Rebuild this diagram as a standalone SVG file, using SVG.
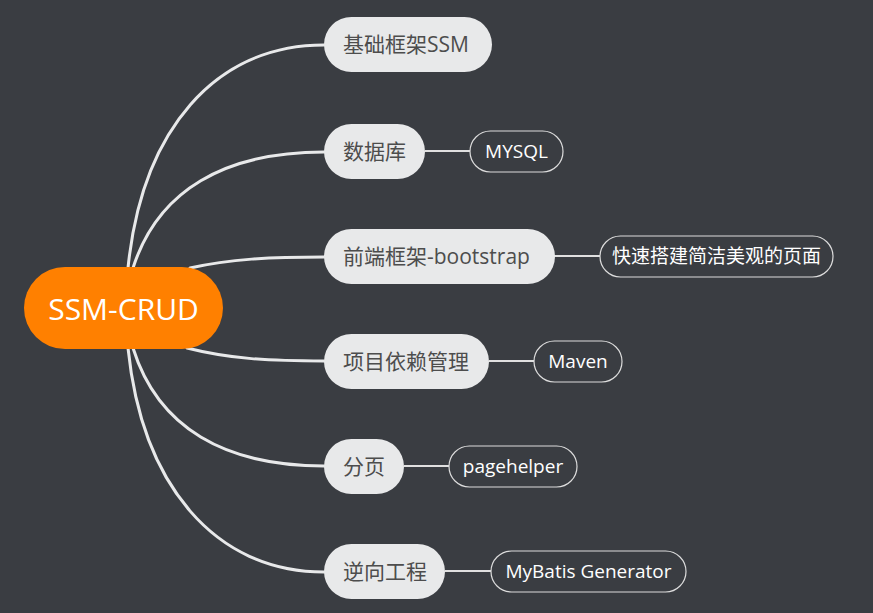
<svg xmlns="http://www.w3.org/2000/svg" width="873" height="613" viewBox="0 0 873 613">
<style>
.bg{fill:#3a3d42}
.main rect{fill:#e8e9ea}
.main text{fill:#4d4d4d;font-family:"Open Sans","Noto Sans CJK SC",sans-serif;font-size:21px}
.sub rect{fill:none;stroke:#dcdcdc;stroke-width:1.2}
.sub text{fill:#ffffff;font-family:"Open Sans","Noto Sans CJK SC",sans-serif;font-size:19px;text-anchor:middle}
.conn path{fill:none;stroke:#e8e9ea;stroke-width:3;stroke-linecap:round}
.conn line{stroke:#e0e0e0;stroke-width:2}
</style>
<rect class="bg" x="0" y="0" width="873" height="613"/>
<g id="connectors" class="conn">
<path d="M128 268 C 142 130 215 45 324 45"/>
<path d="M133 268 C 158 190 225 152 324 152"/>
<path d="M190 268 C 230 259 270 257 324 257"/>
<path d="M187 348 C 230 359 270 361 324 361"/>
<path d="M133 348 C 158 428 225 466 324 466"/>
<path d="M128 348 C 142 485 215 572 324 572"/>
<line x1="425" y1="151" x2="470" y2="151"/>
<line x1="555" y1="256" x2="600" y2="256"/>
<line x1="489" y1="361" x2="534" y2="361"/>
<line x1="404" y1="466" x2="449" y2="466"/>
<line x1="445" y1="571" x2="491" y2="571"/>
</g>
<g id="root">
<rect x="24" y="267" width="199" height="82" rx="41" fill="#ff8000"/>
<text x="123.5" y="320" fill="#ffffff" font-family="'Open Sans','Noto Sans CJK SC',sans-serif" font-size="30" text-anchor="middle">SSM-CRUD</text>
</g>
<g id="n-ssm" class="main">
<rect x="324" y="17" width="168" height="55" rx="27.5"/>
<text x="343" y="52">基础框架SSM</text>
</g>
<g id="n-db" class="main">
<rect x="324" y="124" width="101" height="55" rx="27.5"/>
<text x="343" y="159">数据库</text>
</g>
<g id="n-front" class="main">
<rect x="324" y="229" width="231" height="55" rx="27.5"/>
<text x="343" y="264">前端框架-bootstrap</text>
</g>
<g id="n-dep" class="main">
<rect x="324" y="334" width="165" height="55" rx="27.5"/>
<text x="343" y="369">项目依赖管理</text>
</g>
<g id="n-page" class="main">
<rect x="324" y="439" width="80" height="55" rx="27.5"/>
<text x="343" y="474">分页</text>
</g>
<g id="n-rev" class="main">
<rect x="324" y="544" width="121" height="55" rx="27.5"/>
<text x="343" y="579">逆向工程</text>
</g>
<g id="c-mysql" class="sub">
<rect x="470" y="131" width="93" height="41" rx="20.5"/>
<text x="516.5" y="158">MYSQL</text>
</g>
<g id="c-page-ui" class="sub">
<rect x="600" y="236" width="233" height="41" rx="20.5"/>
<text x="716.5" y="263">快速搭建简洁美观的页面</text>
</g>
<g id="c-maven" class="sub">
<rect x="534" y="341" width="88" height="41" rx="20.5"/>
<text x="578" y="368">Maven</text>
</g>
<g id="c-pagehelper" class="sub">
<rect x="449" y="446" width="128" height="41" rx="20.5"/>
<text x="513" y="473">pagehelper</text>
</g>
<g id="c-mbg" class="sub">
<rect x="491" y="551" width="195" height="41" rx="20.5"/>
<text x="588.5" y="578">MyBatis Generator</text>
</g>
</svg>
